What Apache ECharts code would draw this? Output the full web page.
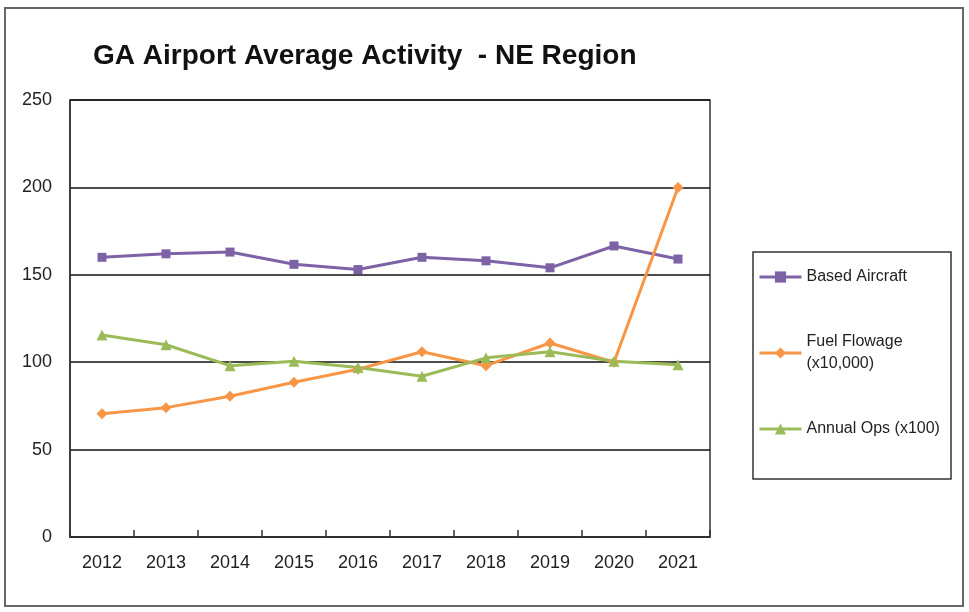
<!DOCTYPE html>
<html>
<head>
<meta charset="utf-8">
<script src="https://cdn.jsdelivr.net/npm/echarts@6/dist/echarts.min.js"></script>
<style>
html,body{margin:0;padding:0;background:#fff;}
#chart{width:969px;height:612px;}
</style>
</head>
<body>
<div id="chart"></div>
<script>
var years = ['2012','2013','2014','2015','2016','2017','2018','2019','2020','2021'];
var basedAircraft = [160, 162, 163, 156, 153, 160, 158, 154, 166.5, 159];
var fuelFlowage = [70.5, 74, 80.5, 88.5, 96, 106, 98, 111, 100, 200];
var annualOps = [115.5, 110, 98, 100.5, 97, 92, 102.5, 106, 100.5, 98.5];
var yTicks = { min: 0, max: 250, interval: 50 };
var titleText = 'GA Airport Average Activity  - NE Region';

var chart = echarts.init(document.getElementById('chart'));
var labelFont = 'Liberation Sans';
chart.setOption({
  animation: false,
  backgroundColor: '#ffffff',
  title: {
    text: titleText,
    left: 88, top: 37,
    textStyle: { fontFamily: labelFont, fontWeight: 'bold', fontSize: 28, color: '#111' }
  },
  graphic: [
    { type: 'rect', shape: { x: 5, y: 8, width: 958, height: 598 }, style: { fill: 'none', stroke: '#666', lineWidth: 2 }, silent: true },
    { type: 'rect', shape: { x: 753, y: 252, width: 198, height: 227 }, style: { fill: 'none', stroke: '#333', lineWidth: 1.5 }, silent: true }
  ],
  legend: {
    orient: 'vertical',
    left: 758, top: 266,
    padding: 0,
    itemGap: 32,
    itemWidth: 42, itemHeight: 14,
    lineStyle: { width: 3 },
    formatter: function (n) { return n === 'Fuel Flowage (x10,000)' ? 'Fuel Flowage\n(x10,000)' : n; },
    textStyle: { fontFamily: labelFont, fontSize: 16, color: '#222', lineHeight: 22 },
    data: [
      { name: 'Based Aircraft' },
      { name: 'Fuel Flowage (x10,000)', textStyle: { padding: [22, 0, 0, 0] } },
      { name: 'Annual Ops (x100)' }
    ]
  },
  grid: { left: 70, top: 100, width: 640, height: 437, show: true, borderColor: '#333', borderWidth: 1.5, backgroundColor: 'transparent' },
  xAxis: {
    type: 'category', data: years, boundaryGap: true,
    axisLine: { lineStyle: { color: '#333', width: 1.5 } },
    axisTick: { show: true, inside: true, length: 7, alignWithLabel: false, lineStyle: { color: '#333', width: 1.5 } },
    axisLabel: { margin: 17, fontFamily: labelFont, fontSize: 18, color: '#222' },
    splitLine: { show: false }
  },
  yAxis: {
    type: 'value', min: yTicks.min, max: yTicks.max, interval: yTicks.interval,
    axisLine: { show: true, lineStyle: { color: '#333', width: 1.5 } },
    axisTick: { show: false },
    axisLabel: { margin: 18, fontFamily: labelFont, fontSize: 18, color: '#222' },
    splitLine: { show: true, lineStyle: { color: '#111', width: 1.5 } }
  },
  series: [
    { name: 'Based Aircraft', type: 'line', data: basedAircraft, symbol: 'rect', symbolSize: 9,
      color: '#7E62A6', lineStyle: { width: 3, color: '#7E62A6' }, itemStyle: { color: '#7E62A6' } },
    { name: 'Fuel Flowage (x10,000)', type: 'line', data: fuelFlowage, symbol: 'diamond', symbolSize: 11,
      color: '#F79646', lineStyle: { width: 3, color: '#F79646' }, itemStyle: { color: '#F79646' } },
    { name: 'Annual Ops (x100)', type: 'line', data: annualOps, symbol: 'triangle', symbolSize: 11,
      color: '#9BBB59', lineStyle: { width: 3, color: '#9BBB59' }, itemStyle: { color: '#9BBB59' } }
  ]
});
</script>
</body>
</html>
